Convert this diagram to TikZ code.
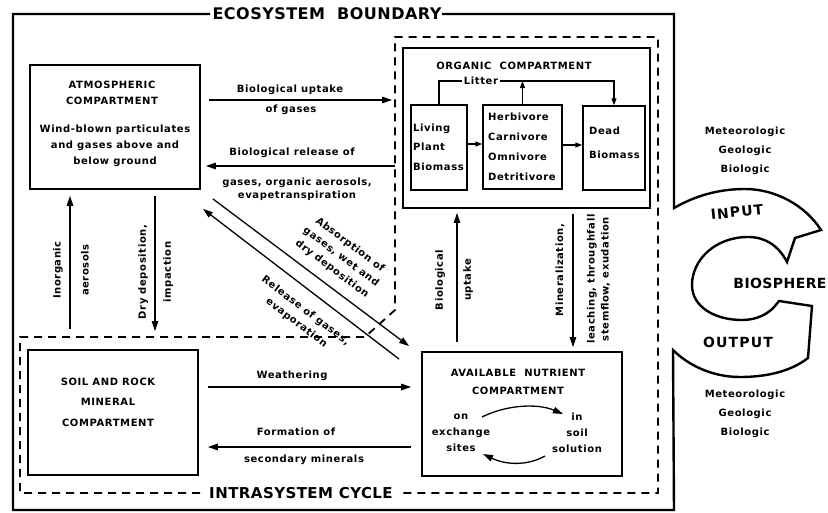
\documentclass[tikz,border=0pt]{standalone}
\usepackage{fontspec}
\usetikzlibrary{arrows.meta,calc}
\newfontfamily\lblfont[LetterSpace=6.0]{DejaVu Sans}
\newfontfamily\ttlfont[LetterSpace=3.0]{DejaVu Sans}
\newfontfamily\bigfont[LetterSpace=8.0]{DejaVu Sans}
\begin{document}
\begin{tikzpicture}[x=1pt,y=-1pt,
  lbl/.style={font=\lblfont\bfseries\fontsize{10}{#1}\selectfont, inner sep=1pt, align=center},
  lbl/.default=14,
  ttl/.style={font=\ttlfont\bfseries\fontsize{#1}{#1}\selectfont, inner sep=0pt},
  big/.style={font=\bigfont\bfseries\fontsize{14}{14}\selectfont, inner sep=0pt},
  box/.style={draw, line width=1.8pt, inner sep=0pt},
  ibox/.style={draw, line width=1.5pt, inner sep=0pt},
  arr/.style={line width=1.3pt, -{Triangle[length=10pt,width=6.5pt]}},
  sarr/.style={line width=1.2pt, -{Triangle[length=7pt,width=5pt]}},
  thinline/.style={line width=1.2pt},
  dashb/.style={line width=1.8pt, dash pattern=on 8pt off 6pt},
  eco/.style={line width=2.4pt, line join=miter}
]
\useasboundingbox (0,0) rectangle (828,512);

% ecosystem boundary with biosphere arrows
\draw[eco] (442,14) -- (674,14) -- (674,208)
  .. controls (695,196) and (718,189) .. (745,189)
  .. controls (775,189) and (805,205) .. (821,230)
  -- (795,238) -- (787,262)
  .. controls (778,245) and (765,237) .. (748,237)
  .. controls (715,237) and (692,260) .. (692,285)
  .. controls (692,307) and (715,320) .. (742,320)
  .. controls (757,320) and (768,314) .. (775,306)
  -- (779,301) -- (812,306) -- (808,358)
  .. controls (790,372) and (765,377) .. (740,377)
  .. controls (712,377) and (688,365) .. (673,350)
  -- (674,510) -- (13,510) -- (13,14) -- (210,14);
\node[ttl=16] (ecoT) at (327,14) {ECOSYSTEM\ \ BOUNDARY};

% intrasystem / organic dashed boundary
\draw[dashb] (200,493) -- (20,493) -- (20,337) -- (365,337) -- (395,310)
  -- (395,37) -- (658,37) -- (658,493) -- (398,493);
\node[ttl=15] (intraT) at (301,493) {INTRASYSTEM CYCLE};

% boxes
\node[box, minimum width=170, minimum height=124] (atm) at (115,127) {};
\node[box, minimum width=247, minimum height=160] (org) at (526.5,128) {};
\node[ibox, minimum width=56, minimum height=85] (living) at (439,147.5) {};
\node[ibox, minimum width=79, minimum height=84] (herb) at (522.5,147) {};
\node[ibox, minimum width=62, minimum height=84] (dead) at (614,148) {};
\node[box, minimum width=170, minimum height=125] (soil) at (113,412.5) {};
\node[box, minimum width=200, minimum height=124] (avail) at (522,414) {};

% box texts
\node[lbl=16.5] (atmT) at (112,93) {ATMOSPHERIC\\COMPARTMENT};
\node[lbl=16] (atmB) at (115,146) {Wind-blown particulates\\and gases above and\\below ground};
\node[lbl] (orgT) at (514,66) {ORGANIC\ \ COMPARTMENT};
\node[lbl, inner sep=2pt] (litter) at (481,81) {Litter};
\node[lbl=19.5, align=left, anchor=west] (livT) at (412,147) {Living\\Plant\\Biomass};
\node[lbl=20, align=left, anchor=west] (herbT) at (487,146.5) {Herbivore\\Carnivore\\Omnivore\\Detritivore};
\node[lbl=24, align=left, anchor=west] (deadT) at (588,143) {Dead\\Biomass};
\node[lbl=20.5] (soilT) at (108,402) {SOIL AND ROCK\\MINERAL\\COMPARTMENT};
\node[lbl=18] (availT) at (518,382) {AVAILABLE\ \ NUTRIENT\\COMPARTMENT};
\node[lbl=16] (exch) at (461,433) {on\\exchange\\sites};
\node[lbl=16] (soln) at (577,433) {in\\soil\\solution};

% flow labels
\node[lbl] (l1a) at (290,90) {Biological uptake};
\node[lbl] (l1b) at (291,110) {of gases};
\node[lbl] (l2a) at (292,153) {Biological release of};
\node[lbl=13.5] (l2b) at (297,189) {gases, organic aerosols,\\evapetranspiration};
\node[lbl] (l3) at (292,376) {Weathering};
\node[lbl] (l4a) at (296,432) {Formation of};
\node[lbl] (l4b) at (304,460) {secondary minerals};
\node[lbl=28, rotate=90] (l5) at (71,270) {Inorganic\\aerosols};
\node[lbl=25, rotate=90] (l6) at (155.5,272) {Dry deposition,\\impaction};
\node[lbl=28, rotate=90] (l7) at (454,280) {Biological\\uptake};
\node[lbl, rotate=90] (l8a) at (560,270) {Mineralization,};
\node[lbl=14, rotate=90] (l8b) at (598.5,279) {leaching, throughfall\\stemflow, exudation};
\node[lbl=15, rotate=-37] (l9) at (341,257) {Absorption of\\gases, wet and\\dry deposition};
\node[lbl=15, rotate=-37] (l10) at (301,317) {Release of gases,\\evaporation};
\node[lbl=19] (src1) at (745,151) {Meteorologic\\Geologic\\Biologic};
\node[lbl=19] (src2) at (745,414) {Meteorologic\\Geologic\\Biologic};
\node[ttl=14] (bios) at (780,283) {BIOSPHERE};
\node[big, rotate=6] (inp) at (737,212) {INPUT};
\node[big] (outp) at (738,342) {OUTPUT};

% connectors
\draw[arr] ($(atm.east)+(8,-27)$) -- ($(org.west)+(-10,-28)$);
\draw[arr] ($(org.west)+(-7,38)$) -- ($(atm.east)+(5,39)$);
\draw[arr] ($(soil.north)+(-43,-20)$) -- ($(atm.south)+(-45,6)$);
\draw[arr] ($(atm.south)+(40,6)$) -- ($(soil.north)+(42,-18)$);
\draw[arr] ($(atm.south east)+(12,9)$) -- ($(avail.north west)+(-12,-5)$);
\draw[arr] ($(avail.north west)+(-22,8)$) -- ($(atm.south east)+(2,19)$);
\draw[arr] ($(avail.north)+(-65,-9)$) -- ($(org.south)+(-69.5,4)$);
\draw[arr] ($(org.south)+(46.5,5)$) -- ($(avail.north)+(51,-4)$);
\draw[arr] ($(soil.east)+(9,-25.5)$) -- ($(avail.west)+(-10,-27)$);
\draw[arr] ($(avail.west)+(-10,33)$) -- ($(soil.east)+(9,34.5)$);
\draw[sarr] ($(living.east)+(0,-3.5)$) -- ($(herb.west)+(0,-3)$);
\draw[sarr] ($(herb.east)+(0,-2)$) -- ($(dead.west)+(0,-3)$);
\draw[thinline] (living.north) |- (litter.west);
\draw[sarr] (litter.east) -| (dead.north);
\draw[sarr] (herb.north) -- (herb.north |- litter.center);
\draw[arr] ($(exch)+(21,-16)$) .. controls ($(exch)+(45,-28)$) and ($(soln)+(-40,-30)$) .. ($(soln)+(-14,-19)$);
\draw[arr] ($(soln)+(-32,23)$) .. controls ($(soln)+(-50,33)$) and ($(exch)+(45,32)$) .. ($(exch)+(22,21)$);
\end{tikzpicture}
\end{document}
